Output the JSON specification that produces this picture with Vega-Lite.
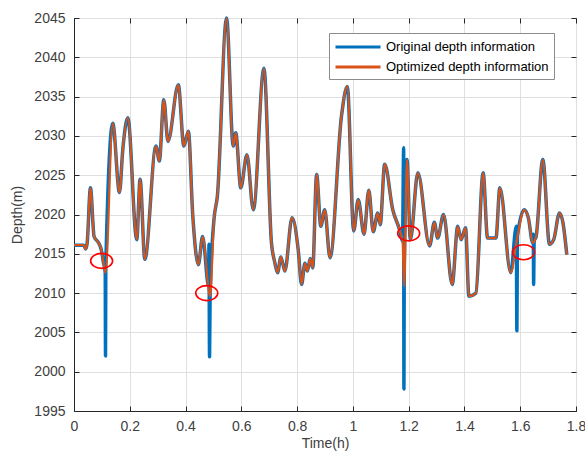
{
  "$schema": "https://vega.github.io/schema/vega-lite/v6.json",
  "width": 502,
  "height": 393,
  "autosize": {"type": "none"},
  "padding": {"left": 74, "top": 18, "right": 9, "bottom": 48},
  "background": "white",
  "config": {
    "font": "Liberation Sans",
    "view": {"stroke": "#262626", "strokeWidth": 1},
    "axis": {
      "labelFont": "Liberation Sans",
      "labelFontSize": 14,
      "labelColor": "#404040",
      "titleFont": "Liberation Sans",
      "titleFontSize": 14,
      "titleFontWeight": "normal",
      "titleColor": "#404040",
      "domainColor": "#262626",
      "tickColor": "#262626",
      "gridColor": "#dfdfdf",
      "gridWidth": 1,
      "tickSize": -5
    }
  },
  "datasets": {
    "blue": [
      {"t": 0, "d": 2016.1}, {"t": 0.035, "d": 2016.1}, {"t": 0.042, "d": 2015.6}, {"t": 0.047, "d": 2016.3},
      {"t": 0.059, "d": 2023.4}, {"t": 0.072, "d": 2017.2}, {"t": 0.088, "d": 2016.4}, {"t": 0.098, "d": 2015.5},
      {"t": 0.105, "d": 2014.0}, {"t": 0.112, "d": 2012.6}, {"t": 0.113, "d": 2002.0}, {"t": 0.114, "d": 2013.5},
      {"t": 0.139, "d": 2031.6}, {"t": 0.163, "d": 2022.8}, {"t": 0.175, "d": 2028.3}, {"t": 0.193, "d": 2032.3},
      {"t": 0.225, "d": 2016.8}, {"t": 0.237, "d": 2024.5}, {"t": 0.254, "d": 2014.3}, {"t": 0.294, "d": 2028.7},
      {"t": 0.306, "d": 2026.8}, {"t": 0.322, "d": 2034.6}, {"t": 0.337, "d": 2029.3}, {"t": 0.374, "d": 2036.5},
      {"t": 0.394, "d": 2028.7}, {"t": 0.41, "d": 2030.6}, {"t": 0.426, "d": 2019.8}, {"t": 0.446, "d": 2013.6},
      {"t": 0.461, "d": 2017.2}, {"t": 0.483, "d": 2010.8}, {"t": 0.484, "d": 2016.2}, {"t": 0.486, "d": 2001.9},
      {"t": 0.488, "d": 2009.6}, {"t": 0.502, "d": 2019.4}, {"t": 0.514, "d": 2022.3}, {"t": 0.547, "d": 2045.0},
      {"t": 0.571, "d": 2028.7}, {"t": 0.58, "d": 2030.4}, {"t": 0.598, "d": 2023.4}, {"t": 0.62, "d": 2027.6},
      {"t": 0.643, "d": 2020.6}, {"t": 0.681, "d": 2038.6}, {"t": 0.708, "d": 2016.4}, {"t": 0.72, "d": 2013.9},
      {"t": 0.73, "d": 2012.6}, {"t": 0.742, "d": 2014.6}, {"t": 0.756, "d": 2012.8}, {"t": 0.782, "d": 2019.6},
      {"t": 0.804, "d": 2015.5}, {"t": 0.816, "d": 2011.1}, {"t": 0.828, "d": 2013.8}, {"t": 0.837, "d": 2012.8},
      {"t": 0.847, "d": 2014.4}, {"t": 0.856, "d": 2013.2}, {"t": 0.87, "d": 2025.1}, {"t": 0.885, "d": 2018.5},
      {"t": 0.899, "d": 2020.6}, {"t": 0.918, "d": 2014.5}, {"t": 0.959, "d": 2032.5}, {"t": 0.98, "d": 2036.3},
      {"t": 1.003, "d": 2017.9}, {"t": 1.019, "d": 2021.9}, {"t": 1.04, "d": 2017.5}, {"t": 1.057, "d": 2023.1},
      {"t": 1.073, "d": 2017.8}, {"t": 1.089, "d": 2020.2}, {"t": 1.098, "d": 2018.7}, {"t": 1.114, "d": 2026.4},
      {"t": 1.143, "d": 2020.6}, {"t": 1.167, "d": 2018.1}, {"t": 1.178, "d": 2016.6}, {"t": 1.182, "d": 2028.5},
      {"t": 1.183, "d": 1997.8}, {"t": 1.184, "d": 2012.0}, {"t": 1.194, "d": 2027.0}, {"t": 1.206, "d": 2016.8},
      {"t": 1.233, "d": 2025.3}, {"t": 1.275, "d": 2016.0}, {"t": 1.292, "d": 2019.0}, {"t": 1.304, "d": 2017.0},
      {"t": 1.325, "d": 2020.0}, {"t": 1.356, "d": 2011.1}, {"t": 1.376, "d": 2018.5}, {"t": 1.388, "d": 2016.8},
      {"t": 1.404, "d": 2018.3}, {"t": 1.416, "d": 2009.6}, {"t": 1.441, "d": 2010.0}, {"t": 1.467, "d": 2025.3},
      {"t": 1.483, "d": 2017.0}, {"t": 1.513, "d": 2017.0}, {"t": 1.527, "d": 2023.4}, {"t": 1.566, "d": 2012.6},
      {"t": 1.586, "d": 2018.5}, {"t": 1.588, "d": 2005.2}, {"t": 1.59, "d": 2017.2}, {"t": 1.614, "d": 2020.6},
      {"t": 1.629, "d": 2019.6}, {"t": 1.645, "d": 2016.4}, {"t": 1.647, "d": 2017.5}, {"t": 1.648, "d": 2011.1},
      {"t": 1.65, "d": 2016.6}, {"t": 1.657, "d": 2017.2}, {"t": 1.681, "d": 2027.0}, {"t": 1.705, "d": 2016.2},
      {"t": 1.72, "d": 2016.8}, {"t": 1.741, "d": 2020.2}, {"t": 1.753, "d": 2019.0}, {"t": 1.767, "d": 2014.9}
    ],
    "orange": [
      {"t": 0, "d": 2016.1}, {"t": 0.035, "d": 2016.1}, {"t": 0.042, "d": 2015.6}, {"t": 0.047, "d": 2016.3},
      {"t": 0.059, "d": 2023.4}, {"t": 0.072, "d": 2017.2}, {"t": 0.088, "d": 2016.4}, {"t": 0.098, "d": 2015.5},
      {"t": 0.105, "d": 2014.0}, {"t": 0.113, "d": 2012.6},
      {"t": 0.139, "d": 2031.6}, {"t": 0.163, "d": 2022.8}, {"t": 0.175, "d": 2028.3}, {"t": 0.193, "d": 2032.3},
      {"t": 0.225, "d": 2016.8}, {"t": 0.237, "d": 2024.5}, {"t": 0.254, "d": 2014.3}, {"t": 0.294, "d": 2028.7},
      {"t": 0.306, "d": 2026.8}, {"t": 0.322, "d": 2034.6}, {"t": 0.337, "d": 2029.3}, {"t": 0.374, "d": 2036.5},
      {"t": 0.394, "d": 2028.7}, {"t": 0.41, "d": 2030.6}, {"t": 0.426, "d": 2019.8}, {"t": 0.446, "d": 2013.6},
      {"t": 0.461, "d": 2017.2},
      {"t": 0.488, "d": 2009.6}, {"t": 0.502, "d": 2019.4}, {"t": 0.514, "d": 2022.3}, {"t": 0.547, "d": 2045.0},
      {"t": 0.571, "d": 2028.7}, {"t": 0.58, "d": 2030.4}, {"t": 0.598, "d": 2023.4}, {"t": 0.62, "d": 2027.6},
      {"t": 0.643, "d": 2020.6}, {"t": 0.681, "d": 2038.6}, {"t": 0.708, "d": 2016.4}, {"t": 0.72, "d": 2013.9},
      {"t": 0.73, "d": 2012.6}, {"t": 0.742, "d": 2014.6}, {"t": 0.756, "d": 2012.8}, {"t": 0.782, "d": 2019.6},
      {"t": 0.804, "d": 2015.5}, {"t": 0.816, "d": 2011.1}, {"t": 0.828, "d": 2013.8}, {"t": 0.837, "d": 2012.8},
      {"t": 0.847, "d": 2014.4}, {"t": 0.856, "d": 2013.2}, {"t": 0.87, "d": 2025.1}, {"t": 0.885, "d": 2018.5},
      {"t": 0.899, "d": 2020.6}, {"t": 0.918, "d": 2014.5}, {"t": 0.959, "d": 2032.5}, {"t": 0.98, "d": 2036.3},
      {"t": 1.003, "d": 2017.9}, {"t": 1.019, "d": 2021.9}, {"t": 1.04, "d": 2017.5}, {"t": 1.057, "d": 2023.1},
      {"t": 1.073, "d": 2017.8}, {"t": 1.089, "d": 2020.2}, {"t": 1.098, "d": 2018.7}, {"t": 1.114, "d": 2026.4},
      {"t": 1.143, "d": 2020.6}, {"t": 1.167, "d": 2018.1}, {"t": 1.178, "d": 2016.6},
      {"t": 1.184, "d": 2010.9}, {"t": 1.194, "d": 2027.0}, {"t": 1.206, "d": 2016.8},
      {"t": 1.233, "d": 2025.3}, {"t": 1.275, "d": 2016.0}, {"t": 1.292, "d": 2019.0}, {"t": 1.304, "d": 2017.0},
      {"t": 1.325, "d": 2020.0}, {"t": 1.356, "d": 2011.1}, {"t": 1.376, "d": 2018.5}, {"t": 1.388, "d": 2016.8},
      {"t": 1.404, "d": 2018.3}, {"t": 1.416, "d": 2009.6}, {"t": 1.441, "d": 2010.0}, {"t": 1.467, "d": 2025.3},
      {"t": 1.483, "d": 2017.0}, {"t": 1.513, "d": 2017.0}, {"t": 1.527, "d": 2023.4}, {"t": 1.566, "d": 2012.6},
      {"t": 1.59, "d": 2017.2}, {"t": 1.614, "d": 2020.6},
      {"t": 1.629, "d": 2019.6}, {"t": 1.645, "d": 2016.4},
      {"t": 1.657, "d": 2017.2}, {"t": 1.681, "d": 2027.0}, {"t": 1.705, "d": 2016.2},
      {"t": 1.72, "d": 2016.8}, {"t": 1.741, "d": 2020.2}, {"t": 1.753, "d": 2019.0}, {"t": 1.767, "d": 2014.9}
    ],
    "circles": [
      {"t": 0.099, "d": 2014.1},
      {"t": 0.476, "d": 2010.0},
      {"t": 1.2, "d": 2017.6},
      {"t": 1.612, "d": 2015.2}
    ]
  },
  "layer": [
    {
      "data": {"name": "blue"},
      "mark": {"type": "line", "strokeWidth": 3.5, "strokeJoin": "round", "interpolate": "monotone"},
      "encoding": {
        "x": {
          "field": "t", "type": "quantitative",
          "scale": {"domain": [0, 1.8], "nice": false},
          "axis": {
            "title": "Time(h)", "orient": "bottom",
            "values": [0, 0.2, 0.4, 0.6, 0.8, 1, 1.2, 1.4, 1.6, 1.8],
            "format": "~g", "labelPadding": 13, "titlePadding": 3, "labelFlush": false
          }
        },
        "y": {
          "field": "d", "type": "quantitative",
          "scale": {"domain": [1995, 2045], "nice": false, "zero": false},
          "axis": {
            "title": "Depth(m)", "orient": "left",
            "values": [1995, 2000, 2005, 2010, 2015, 2020, 2025, 2030, 2035, 2040, 2045],
            "format": "d", "labelPadding": 14, "titlePadding": 9
          }
        },
        "color": {
          "datum": "Original depth information", "type": "nominal",
          "scale": {"domain": ["Original depth information", "Optimized depth information"], "range": ["#0072BD", "#D95319"]},
          "legend": {
            "orient": "none", "legendX": 255, "legendY": 15, "title": null,
            "symbolType": "M -1 0 L 5 0", "symbolSize": 225, "symbolStrokeWidth": 3,
            "labelFontSize": 13, "labelFont": "Liberation Sans", "labelColor": "#000000", "labelLimit": 400,
            "fillColor": "#ffffff", "strokeColor": "#8c8c8c", "padding": 5, "rowPadding": 4, "labelOffset": 34
          }
        }
      }
    },
    {
      "data": {"name": "orange"},
      "mark": {"type": "line", "strokeWidth": 2.2, "strokeJoin": "round", "interpolate": "monotone"},
      "encoding": {
        "x": {"field": "t", "type": "quantitative", "axis": null},
        "y": {"field": "d", "type": "quantitative", "axis": null},
        "color": {"datum": "Optimized depth information", "type": "nominal"}
      }
    },
    {
      "data": {"name": "circles"},
      "mark": {"type": "point", "shape": "M -1 0 A 1 0.68 0 1 0 1 0 A 1 0.68 0 1 0 -1 0 Z", "size": 484, "filled": false, "color": "#ff0000", "strokeWidth": 1.6, "opacity": 1},
      "encoding": {
        "x": {"field": "t", "type": "quantitative", "axis": {"orient": "top", "title": null, "labels": false, "domain": false, "grid": false, "values": [0, 0.2, 0.4, 0.6, 0.8, 1, 1.2, 1.4, 1.6, 1.8]}},
        "y": {"field": "d", "type": "quantitative", "axis": {"orient": "right", "title": null, "labels": false, "domain": false, "grid": false, "values": [1995, 2000, 2005, 2010, 2015, 2020, 2025, 2030, 2035, 2040, 2045]}}
      }
    }
  ],
  "resolve": {"axis": {"x": "independent", "y": "independent"}}
}
